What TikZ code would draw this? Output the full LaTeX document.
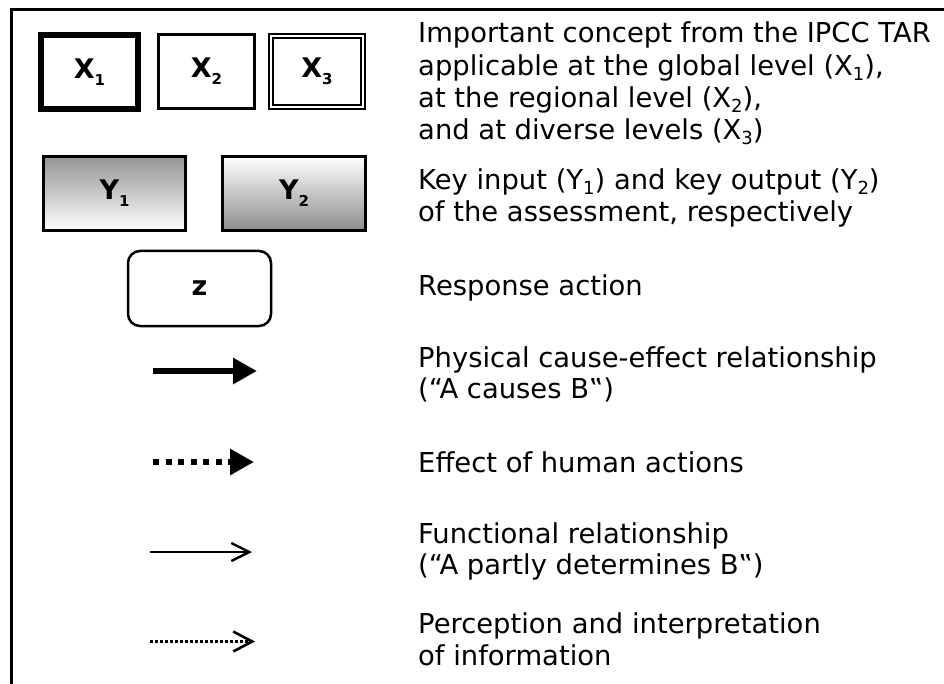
\documentclass[tikz,border=0pt]{standalone}
\usepackage{fontspec}
\setmainfont{DejaVu Sans}
\usetikzlibrary{arrows.meta}
\newcommand\tsub[1]{\raisebox{-5pt}{\fontsize{18}{18}\selectfont #1}}
\newcommand\bsub[1]{\raisebox{-7pt}{\fontsize{15}{15}\selectfont\bfseries #1}}
\begin{document}
\begin{tikzpicture}[x=1pt,y=-1pt,
  txt/.style={anchor=base west, inner sep=0pt, font=\fontsize{27.4}{32}\selectfont},
  keybox/.style={draw, inner sep=0pt, font=\fontsize{27}{27}\selectfont\bfseries},
  thickarrow/.style={line width=6pt, -{Triangle[length=24pt,width=25pt]}},
  thinarrow/.style={line width=1.6pt, -{Straight Barb[length=18pt,width=18pt,line width=2.4pt]}}
]
\useasboundingbox (0,0) rectangle (944,684);
% frame
\draw[line width=3pt] (11,684) -- (11,10) -- (944,10);

% concept boxes
\node[keybox, line width=6pt, minimum width=97pt, minimum height=74pt] (x1) at (89.5,72) {X\bsub{1}};
\node[keybox, line width=3.5pt, minimum width=96pt, minimum height=74pt] (x2) at (206.5,71.5) {X\bsub{2}};
\node[keybox, line width=1.8pt, double, double distance=2pt, minimum width=92pt, minimum height=71pt] (x3) at (317,71.5) {X\bsub{3}};

\node[keybox, line width=3pt, minimum width=142pt, minimum height=74pt, top color=black!42, bottom color=white] (y1) at (114.5,193.5) {Y\bsub{1}};
\node[keybox, line width=3pt, minimum width=143pt, minimum height=74pt, top color=white, bottom color=black!45] (y2) at (294,193.5) {Y\bsub{2}};

\node[keybox, line width=2.5pt, rounded corners=12pt, minimum width=143pt, minimum height=75pt] (z) at (199.5,288.5) {z};

% arrows
\coordinate (a1s) at (153,371); \coordinate (a1e) at (257,371);
\draw[thickarrow] (a1s) -- (a1e);
\coordinate (a2s) at (153,462); \coordinate (a2e) at (254,462);
\draw[thickarrow, dash pattern=on 6pt off 6.5pt] (a2s) -- (a2e);
\coordinate (a3s) at (150,552); \coordinate (a3e) at (252,552);
\draw[thinarrow] (a3s) -- (a3e);
\coordinate (a4s) at (150,641.5); \coordinate (a4e) at (255,641.5);
\draw[line width=2.2pt, dash pattern=on 2.5pt off 2.5pt, -{Straight Barb[length=19pt,width=20pt,line width=2.6pt]}] (a4s) -- (a4e);

% texts
\node[txt] (t1a) at (418,43) {Important concept from the IPCC TAR};
\node[txt] (t1b) at (418,75.3) {applicable at the global level (X\tsub{1}),};
\node[txt] (t1c) at (418,107.6) {at the regional level (X\tsub{2}),};
\node[txt] (t1d) at (418,140) {and at diverse levels (X\tsub{3})};
\node[txt] (t2a) at (418,190) {Key input (Y\tsub{1}) and key output (Y\tsub{2})};
\node[txt] (t2b) at (418,222) {of the assessment, respectively};
\node[txt] (t3) at (418,295) {Response action};
\node[txt] (t4a) at (418,367) {Physical cause-effect relationship};
\node[txt] (t4b) at (418,398) {(“A causes B‟)};
\node[txt] (t5) at (418,472) {Effect of human actions};
\node[txt] (t6a) at (418,543) {Functional relationship};
\node[txt] (t6b) at (418,574) {(“A partly determines B‟)};
\node[txt] (t7a) at (418,633) {Perception and interpretation};
\node[txt] (t7b) at (418,665) {of information};
\end{tikzpicture}
\end{document}
